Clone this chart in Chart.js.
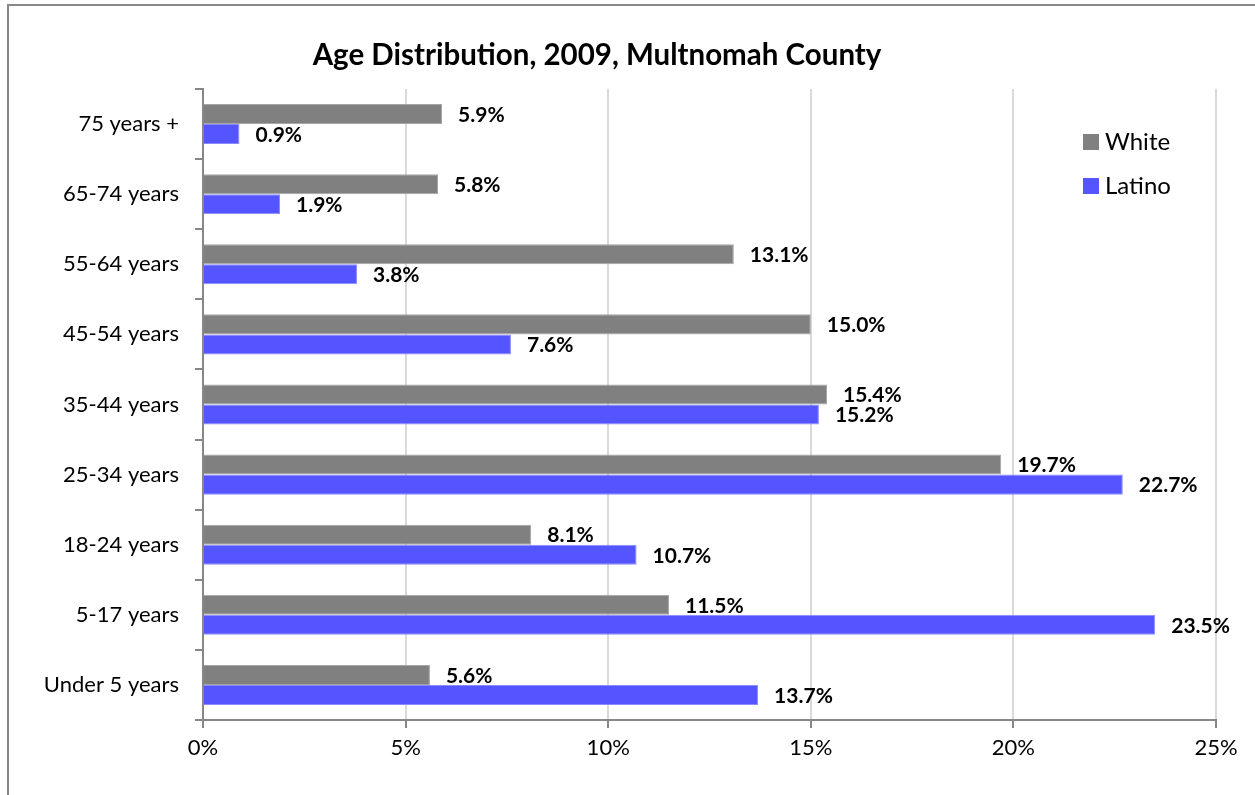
<!DOCTYPE html>
<html>
<head>
    <title>Age Distribution, 2009, Multnomah County</title>
    <script src="https://cdn.jsdelivr.net/npm/chart.js"></script>
    <style>
        html, body {
            margin: 0;
            padding: 0;
            background: #fff;
        }
        .frame {
            position: absolute;
            left: 7px;
            top: 4px;
            width: 1260px;
            height: 800px;
            border-left: 2px solid #878787;
            border-top: 2px solid #878787;
        }
        canvas {
            position: absolute;
            left: 0;
            top: 0;
        }
    </style>
</head>
<body>
    <div class="frame"></div>
    <canvas id="ageChart" width="1255" height="795"></canvas>

    <script>
        // Données (de haut en bas, comme affiché)
        const categories = ['75 years +', '65-74 years', '55-64 years', '45-54 years', '35-44 years',
                            '25-34 years', '18-24 years', '5-17 years', 'Under 5 years'];
        const whiteValues = [5.9, 5.8, 13.1, 15.0, 15.4, 19.7, 8.1, 11.5, 5.6];
        const latinoValues = [0.9, 1.9, 3.8, 7.6, 15.2, 22.7, 10.7, 23.5, 13.7];
        const xTicks = [0, 5, 10, 15, 20, 25];
        const chartTitle = 'Age Distribution, 2009, Multnomah County';

        const FONT = 'Lato, "Open Sans", sans-serif';

        // Titre placé comme dans le graphique d'origine
        const titlePlugin = {
            id: 'customTitle',
            afterDraw(chart) {
                const ctx = chart.ctx;
                ctx.save();
                ctx.font = 'bold 29.5px ' + FONT;
                ctx.fillStyle = '#000';
                ctx.textAlign = 'center';
                ctx.textBaseline = 'middle';
                ctx.fillText(chartTitle, 597, 55);
                ctx.restore();
            }
        };

        // Étiquettes de valeur à droite des barres
        const valueLabels = {
            id: 'valueLabels',
            afterDatasetsDraw(chart) {
                const ctx = chart.ctx;
                ctx.save();
                ctx.font = 'bold 21px ' + FONT;
                ctx.fillStyle = '#000';
                ctx.textAlign = 'left';
                ctx.textBaseline = 'middle';
                chart.data.datasets.forEach((ds, i) => {
                    chart.getDatasetMeta(i).data.forEach((bar, j) => {
                        ctx.fillText(ds.data[j].toFixed(1) + '%', bar.x + 16, bar.y + 1);
                    });
                });
                ctx.restore();
            }
        };

        // Légende dans la zone du graphique, en haut à droite
        const innerLegend = {
            id: 'innerLegend',
            afterDraw(chart) {
                const ctx = chart.ctx;
                ctx.save();
                ctx.font = '24px ' + FONT;
                ctx.textAlign = 'left';
                ctx.textBaseline = 'middle';
                chart.data.datasets.forEach((ds, i) => {
                    const y = 142 + i * 44;
                    ctx.fillStyle = ds.backgroundColor;
                    ctx.fillRect(1083, y - 8, 16, 16);
                    ctx.fillStyle = '#000';
                    ctx.fillText(ds.label, 1105, y);
                });
                ctx.restore();
            }
        };

        const ctx = document.getElementById('ageChart').getContext('2d');
        new Chart(ctx, {
            type: 'bar',
            data: {
                labels: categories,
                datasets: [{
                    label: 'White',
                    data: whiteValues,
                    backgroundColor: '#808080',
                    borderColor: '#a6a6a6',
                    borderWidth: 1,
                    categoryPercentage: 40 / 70,
                    barPercentage: 1
                }, {
                    label: 'Latino',
                    data: latinoValues,
                    backgroundColor: '#5555ff',
                    borderColor: '#8a8aff',
                    borderWidth: 1,
                    categoryPercentage: 40 / 70,
                    barPercentage: 1
                }]
            },
            options: {
                indexAxis: 'y',
                responsive: false,
                animation: false,
                devicePixelRatio: 1,
                layout: {
                    padding: { top: 89, right: 39, left: 0, bottom: 0 }
                },
                plugins: {
                    legend: { display: false },
                    title: { display: false },
                    tooltip: { enabled: false }
                },
                scales: {
                    x: {
                        min: xTicks[0],
                        max: xTicks[xTicks.length - 1],
                        afterFit(scale) { scale.height = 75; },
                        afterBuildTicks(scale) {
                            scale.ticks = xTicks.map(v => ({ value: v }));
                        },
                        ticks: {
                            callback: v => v + '%',
                            color: '#000',
                            font: { family: FONT, size: 22 },
                            padding: 7,
                            maxRotation: 0
                        },
                        grid: {
                            color: '#d9d9d9',
                            lineWidth: 2,
                            tickColor: '#878787',
                            tickLength: 8
                        },
                        border: { color: '#878787', width: 2 }
                    },
                    y: {
                        afterFit(scale) { scale.width = 203; },
                        ticks: {
                            color: '#000',
                            font: { family: FONT, size: 22 },
                            padding: 16
                        },
                        grid: {
                            offset: true,
                            drawOnChartArea: false,
                            tickColor: '#878787',
                            tickLength: 8,
                            lineWidth: 2
                        },
                        border: { color: '#878787', width: 2 }
                    }
                }
            },
            plugins: [titlePlugin, valueLabels, innerLegend]
        });
    </script>
</body>
</html>
